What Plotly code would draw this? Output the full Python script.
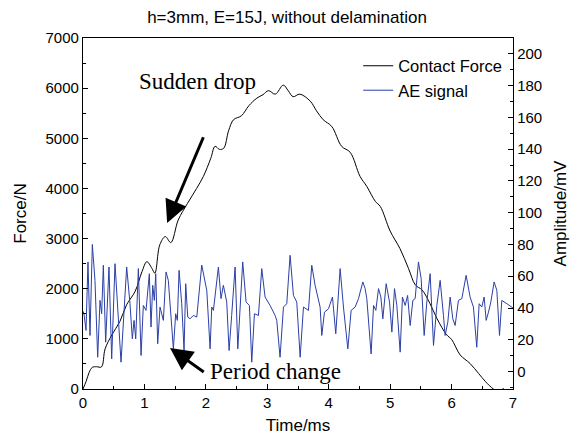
import plotly.graph_objects as go

# Contact force (time in ms, force in N)
force_t = [0, 0.05, 0.1, 0.15, 0.22, 0.3, 0.36, 0.47, 0.6, 0.71, 0.85, 0.96, 1.04, 1.12, 1.17,
           1.25, 1.34, 1.43, 1.55, 1.7, 1.85, 1.96, 2.08, 2.15, 2.22, 2.29, 2.37, 2.45, 2.58,
           2.7, 2.83, 2.93, 3.02, 3.13, 3.26, 3.34, 3.42, 3.53, 3.7, 3.8, 3.91, 4.05, 4.21,
           4.35, 4.51, 4.62, 4.76, 4.84, 5.0, 5.16, 5.3, 5.41, 5.52, 5.65, 5.76, 5.92, 6.0,
           6.14, 6.3, 6.44, 6.55, 6.68, 6.75, 6.85]
force_n = [0, 150, 330, 430, 445, 440, 800, 1080, 1345, 1680, 1950, 2340, 2540, 2410, 2310,
           2875, 3040, 2920, 3370, 3700, 4000, 4240, 4600, 4840, 4780, 4800, 5150, 5370, 5450,
           5650, 5800, 5870, 5950, 5880, 6060, 5950, 5830, 5880, 5740, 5550, 5370, 5235, 4840,
           4720, 4240, 4040, 3740, 3640, 3150, 2800, 2400, 2075, 1975, 1700, 1410, 1080, 990,
           680, 510, 310, 150, 0, -40, 10]

# AE signal (time in ms, amplitude in mV)
ae_t = [0.0, 0.016, 0.049, 0.081, 0.114, 0.152, 0.195, 0.239, 0.277, 0.304, 0.331, 0.369, 0.423,
        0.467, 0.521, 0.575, 0.619, 0.711, 0.765, 0.803, 0.831, 0.858, 0.901, 0.945, 0.982,
        1.026, 1.08, 1.107, 1.135, 1.161, 1.184, 1.216, 1.254, 1.308, 1.352, 1.389, 1.417,
        1.471, 1.509, 1.536, 1.564, 1.607, 1.645, 1.672, 1.705, 1.743, 1.797, 1.852, 1.933,
        2.015, 2.069, 2.096, 2.123, 2.204, 2.247, 2.285, 2.34, 2.378, 2.42, 2.476, 2.52,
        2.557, 2.6, 2.655, 2.709, 2.747, 2.791, 2.856, 2.91, 2.964, 3.046, 3.127, 3.154,
        3.208, 3.263, 3.317, 3.371, 3.426, 3.48, 3.535, 3.589, 3.67, 3.724, 3.778, 3.86,
        3.887, 3.931, 3.996, 4.061, 4.115, 4.186, 4.24, 4.311, 4.365, 4.43, 4.485, 4.555,
        4.593, 4.62, 4.69, 4.73, 4.767, 4.811, 4.849, 4.881, 4.935, 4.99, 5.028, 5.071,
        5.109, 5.163, 5.2, 5.245, 5.284, 5.326, 5.37, 5.407, 5.461, 5.505, 5.554, 5.597,
        5.651, 5.706, 5.76, 5.814, 5.868, 5.895, 5.939, 5.977, 6.02, 6.058, 6.112, 6.167,
        6.237, 6.302, 6.356, 6.41, 6.449, 6.492, 6.53, 6.563, 6.601, 6.639, 6.693, 6.737,
        6.78, 6.818, 6.9, 6.981, 7.0]
ae_mv = [38, 36.4, 25.9, 69, 22.7, 80, 57.4, 9, 44.8, 36.4, 66.9, 18.5, 65.8,
         8, 67.9, 32.2, 5.9, 65.8, 42.7, 20.6, 32.2, 20.6, 64.8, 10.1, 41.6,
         38.5, 61.6, 28, 54.3, 44.8, 61.6, 17.5, 40.6, 32.2, 62.7, 57.4, 40.6,
         14.3, 36.4, 32.2, 63.7, 42.7, 13.2, 55.3, 34.3, 33.2, 35.3, 34.3, 67.0,
         51.1, 14.3, 40.6, 38.5, 65.8, 45.9, 54.3, 43.7, 13.2, 35.3, 65.8, 14.3,
         41.6, 69, 43.7, 41.6, 5.9, 36.4, 35.3, 64.8, 46.9, 41.6, 35.3, 32.2,
         9, 40.6, 42.7, 73.2, 47.9, 43.7, 9, 40.6, 38.5, 66.9, 54.3, 40.6,
         22.7, 37.4, 39.5, 46.9, 23.8, 64.8, 40.6, 14.3, 38.5, 40.6, 45.9, 56.4,
         52.2, 45.9, 11.1, 41.6, 38.5, 52.2, 46.9, 33.2, 55.3, 43.7, 24.8, 52.2,
         41.6, 12.2, 46.9, 41.6, 47.9, 29, 44.8, 45.9, 69, 58.5, 22.7, 43.7,
         61.6, 16.4, 41.6, 57.4, 35.3, 22.7, 31.1, 46.9, 33.2, 29, 44.8, 45.9,
         60.6, 46.9, 40.6, 15.3, 42.7, 40.6, 46.9, 32.2, 37.4, 43.7, 56.4, 51.1,
         22.7, 44.8, 42.7, 40.6, 40]

title_text = "h=3mm, E=15J, without delamination"

fig = go.Figure()
fig.add_trace(go.Scatter(x=force_t, y=force_n, name="Contact Force", mode="lines",
                         line=dict(color="black", width=1), line_shape="spline"))
fig.add_trace(go.Scatter(x=ae_t, y=ae_mv, name="AE signal", mode="lines", yaxis="y2",
                         line=dict(color="#2b3fa6", width=1)))

font_family = "Liberation Sans, Arial, sans-serif"
serif = "Liberation Serif, Times New Roman, serif"

axis_common = dict(showline=True, linecolor="black", linewidth=1.3, ticks="inside",
                   ticklen=5, tickwidth=1.2, tickcolor="black", showgrid=False,
                   zeroline=False, automargin=False, tickfont=dict(size=15, color="black"))

fig.update_layout(
    width=574, height=441,
    margin=dict(l=83, r=61, t=38, b=52),
    paper_bgcolor="white", plot_bgcolor="white",
    font=dict(family=font_family, color="black"),
    title=dict(text=title_text, x=0.5, xanchor="center", y=0.962, yanchor="middle",
               font=dict(size=17, color="black")),
    xaxis=dict(range=[0, 7], dtick=1, tick0=0, mirror=True,
               title=dict(text="Time/ms", font=dict(size=17), standoff=8),
               minor=dict(dtick=0.5, ticks="inside", ticklen=3, tickcolor="black"),
               **axis_common),
    yaxis=dict(range=[0, 7000], dtick=1000, tick0=0,
               title=dict(text="Force/N", font=dict(size=17), standoff=14),
               minor=dict(dtick=500, ticks="inside", ticklen=3, tickcolor="black"),
               **axis_common),
    yaxis2=dict(range=[-11, 210], dtick=20, tick0=0, overlaying="y", side="right",
                title=dict(text="Amplitude/mV", font=dict(size=17), standoff=12),
                minor=dict(dtick=10, ticks="inside", ticklen=3, tickcolor="black"),
                **axis_common),
    legend=dict(x=0.64, y=0.97, xanchor="left", yanchor="top",
                bgcolor="rgba(0,0,0,0)", font=dict(size=16.5, color="black"),
                tracegroupgap=0),
    showlegend=True,
)

fig.add_annotation(x=1.37, y=3313, ax=1.97, ay=5050, xref="x", yref="y", axref="x", ayref="y",
                   showarrow=True, arrowhead=2, arrowsize=1.5, arrowwidth=3, arrowcolor="black",
                   text="")
fig.add_annotation(x=1.87, y=6128, xref="x", yref="y", text="Sudden drop", showarrow=False,
                   font=dict(family=serif, size=23, color="black"))
fig.add_annotation(x=1.417, y=818, ax=1.99, ay=319, xref="x", yref="y", axref="x", ayref="y",
                   showarrow=True, arrowhead=2, arrowsize=1.5, arrowwidth=3, arrowcolor="black",
                   text="")
fig.add_annotation(x=3.14, y=359, xref="x", yref="y", text="Period change", showarrow=False,
                   font=dict(family=serif, size=23, color="black"))

fig.write_html("out.html", config={"displayModeBar": False},
               post_script="document.body.style.margin='0px';")
